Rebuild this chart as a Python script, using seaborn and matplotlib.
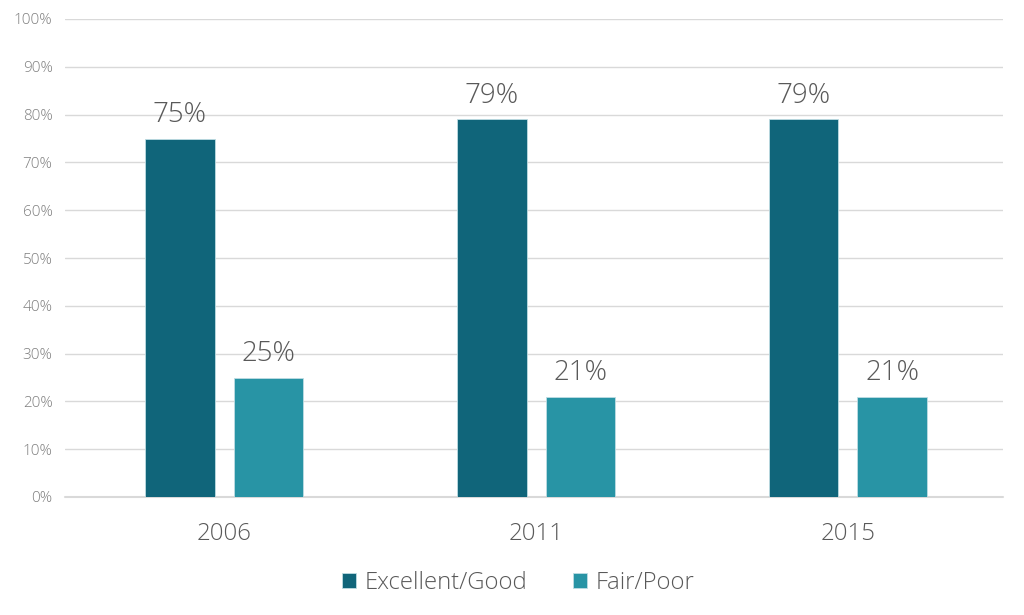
import matplotlib
matplotlib.use("Agg")
import matplotlib.pyplot as plt
import seaborn as sns
import pandas as pd

years = ["2006", "2011", "2015"]
excellent_good = [75, 79, 79]
fair_poor = [25, 21, 21]
series_names = ["Excellent/Good", "Fair/Poor"]
colors = ["#10657A", "#2894A5"]
y_ticks = list(range(0, 101, 10))

df = pd.DataFrame({
    "Year": years * 2,
    "Value": excellent_good + fair_poor,
    "Series": [series_names[0]] * 3 + [series_names[1]] * 3,
})

sns.set_theme(style="white")
plt.rcParams["font.family"] = ["Open Sans", "DejaVu Sans"]

fig = plt.figure(figsize=(10.24, 6.15), dpi=100)
ax = fig.add_axes([65 / 1024, (615 - 497) / 615, (1003 - 65) / 1024, (497 - 19) / 615])

sns.barplot(data=df, x="Year", y="Value", hue="Series", order=years,
            hue_order=series_names, palette=colors, width=0.57, gap=0.214,
            ax=ax, saturation=1, errorbar=None, edgecolor="#BFDDE3", linewidth=0.6)

ax.set_ylim(0, 100)
ax.set_xlim(-0.51, 2.497)
ax.set_yticks(y_ticks)
ax.set_yticklabels([f"{v}%" for v in y_ticks], fontsize=11, color="#7F7F7F", fontweight="light")
ax.tick_params(axis="y", length=0, pad=9)
ax.tick_params(axis="x", length=0, pad=18, labelsize=17.3, labelcolor="#595959")
for t in ax.get_xticklabels():
    t.set_fontweight("light")
ax.grid(axis="y", color="#D9D9D9", linewidth=1)
ax.axhline(0, color="#D9D9D9", linewidth=1.5, zorder=0.5, clip_on=False)
ax.set_axisbelow(True)
for s in ax.spines.values():
    s.set_visible(False)
ax.set_xlabel("")
ax.set_ylabel("")

for cont in ax.containers:
    ax.bar_label(cont, labels=[f"{v:.0f}%" for v in cont.datavalues],
                 padding=7, fontsize=20, color="#595959", fontweight="light")

handles, labels = ax.get_legend_handles_labels()
leg = ax.legend(handles, labels, loc="upper center", bbox_to_anchor=(0.483, -0.11),
                ncol=2, frameon=False, fontsize=17.2, labelcolor="#595959",
                handlelength=0.6, handleheight=0.6, handletextpad=0.35, columnspacing=1.9)
for t in leg.get_texts():
    t.set_fontweight("light")

fig.savefig("out.png", dpi=100)
